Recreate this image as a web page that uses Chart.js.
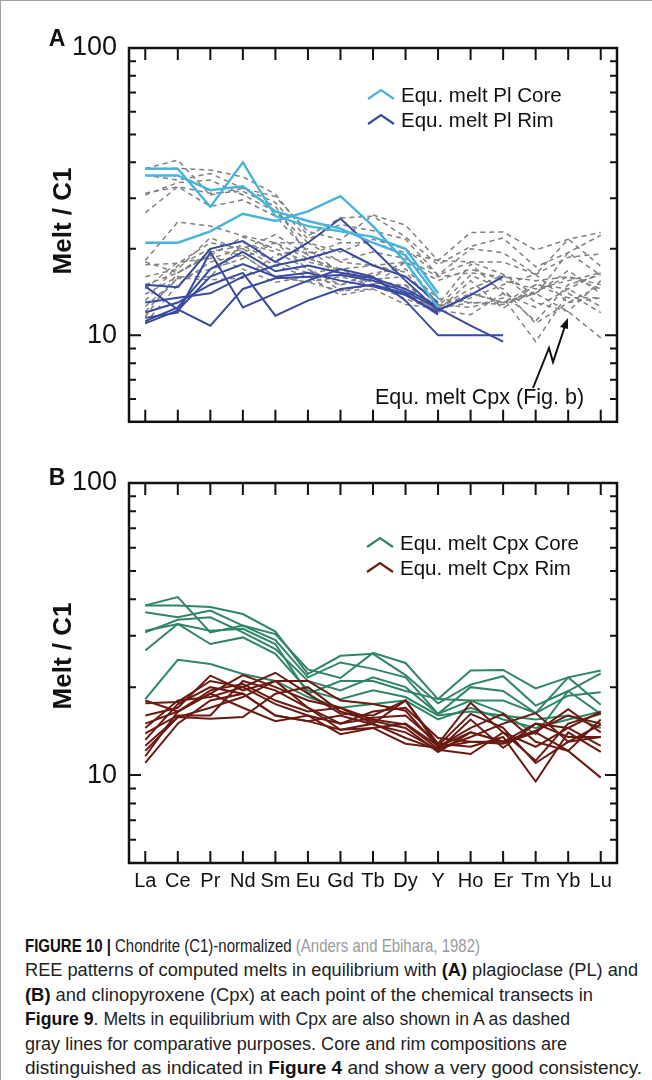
<!DOCTYPE html>
<html>
<head>
<meta charset="utf-8">
<script src="https://cdn.jsdelivr.net/npm/chart.js@4.4.1/dist/chart.umd.min.js"></script>
<style>
  body { margin: 0; background: #fff; font-family: "Liberation Sans", Arial, Helvetica, sans-serif; }
  #page { position: relative; width: 652px; height: 1080px; overflow: hidden; background: #fff; }
  #frame { position: absolute; left: 0; top: 0; width: 652px; height: 1080px; border-left: 1px solid #a0a0a0; border-top: 1px solid #a0a0a0; box-sizing: border-box; }
  .wrap { position: absolute; left: 0; }
  .lbl { position: absolute; white-space: nowrap; color: #111; }
  .ytitle { position: absolute; white-space: nowrap; font-weight: bold; font-size: 26px; color: #111; transform: translate(-50%, -50%) rotate(-90deg); }
  .panel { position: absolute; font-weight: bold; font-size: 23px; color: #111; transform: translate(-50%, -50%); }
  .leg { position: absolute; font-size: 20.5px; color: #111; white-space: nowrap; line-height: 25px; }
  .leg svg { vertical-align: middle; margin-right: 6px; position: relative; top: -3px; }
  .cap { position: absolute; left: 25px; white-space: nowrap; font-size: 17.5px; color: #222; transform-origin: 0 50%; line-height: 20px; }
  .cap b { color: #111; }
  .cap .ref { color: #9a9a9a; }
</style>
</head>
<body>
<div id="page">
  <div id="frame"></div>

  <div class="wrap" style="top:0;"><canvas id="chartA" width="652" height="450"></canvas></div>
  <div class="wrap" style="top:440px;"><canvas id="chartB" width="652" height="470"></canvas></div>

  <div class="panel" style="left:57px; top:38px;">A</div>
  <div class="panel" style="left:57px; top:477px;">B</div>
  <div class="ytitle" style="left:62px; top:221px;">Melt / C1</div>
  <div class="ytitle" style="left:62px; top:656px;">Melt / C1</div>

  <div class="leg" style="left:367px; top:82px;">
    <div><svg width="28" height="12"><polyline points="1,11 14,2 27,11" fill="none" stroke="#48b4dc" stroke-width="2.2"/></svg>Equ. melt Pl Core</div>
    <div><svg width="28" height="12"><polyline points="1,11 14,2 27,11" fill="none" stroke="#3a4aa0" stroke-width="2.2"/></svg>Equ. melt Pl Rim</div>
  </div>
  <div class="leg" style="left:366px; top:530px;">
    <div><svg width="28" height="12"><polyline points="1,11 14,2 27,11" fill="none" stroke="#2f8566" stroke-width="2.2"/></svg>Equ. melt Cpx Core</div>
    <div><svg width="28" height="12"><polyline points="1,11 14,2 27,11" fill="none" stroke="#6b1a12" stroke-width="2.2"/></svg>Equ. melt Cpx Rim</div>
  </div>

  <div class="lbl" style="left:375px; top:385px; font-size:21.5px;">Equ. melt Cpx (Fig. b)</div>
  <svg style="position:absolute; left:0; top:0;" width="652" height="450">
    <polyline points="533,388 549,348 553,362 565,326" fill="none" stroke="#111" stroke-width="2"/>
    <polygon points="568,318 560,327 568,329" fill="#111"/>
  </svg>

  <div class="cap" data-w="455" style="top:936px;"><b>FIGURE 10 |</b> Chondrite (C1)-normalized <span class="ref">(Anders and Ebihara, 1982)</span></div>
  <div class="cap" data-w="613" style="top:960px;">REE patterns of computed melts in equilibrium with <b>(A)</b> plagioclase (PL) and</div>
  <div class="cap" data-w="568" style="top:985px;"><b>(B)</b> and clinopyroxene (Cpx) at each point of the chemical transects in</div>
  <div class="cap" data-w="545" style="top:1009px;"><b>Figure 9</b>. Melts in equilibrium with Cpx are also shown in A as dashed</div>
  <div class="cap" data-w="542" style="top:1034px;">gray lines for comparative purposes. Core and rim compositions are</div>
  <div class="cap" data-w="617" style="top:1058px;">distinguished as indicated in <b>Figure 4</b> and show a very good consistency.</div>
</div>

<script>
// REE order on the x axis
const elements = ['La', 'Ce', 'Pr', 'Nd', 'Sm', 'Eu', 'Gd', 'Tb', 'Dy', 'Y', 'Ho', 'Er', 'Tm', 'Yb', 'Lu'];
const yTicks = [5, 6, 7, 8, 9, 10, 20, 30, 40, 50, 60, 70, 80, 90, 100];

// panel A - melts in equilibrium with plagioclase
const plCore1 = [38, 38, 28, 40, 26, 24, 23, 22, 20, 14];
const plCore2 = [36, 36, 32, 33, 27, 25, 23.5, 21, 19, 13.5];
const plCore3 = [21, 21, 23, 26.5, 25, 27, 30.5, 24, 18, 12.5];

const plRim1 = [15, 14.7, 20, 21.3, 18, 21, 25.5, 20, 15.5, 12.2, 13.8, 16];
const plRim2 = [14.8, 12.3, 10.8, 14.5, 15.8, 16, 16.2, 15.5, 14.2, 12.4, 10.8, 9.5];
const plRim3 = [11.5, 12, 19.5, 12.5, 14, 15.5, 17, 16, 13.2, 10, 10, 10];
const plRim4 = [11.2, 12.5, 17, 19.5, 16.7, 17.5, 16.5, 15.8, 14.5, 12.6];
const plRim5 = [11, 12.2, 16, 17.7, 16, 16.5, 15.5, 14.8, 13.8, 12];
const plRim6 = [12, 13, 15, 16.5, 11.7, 13.2, 14.5, 15, 14, 11.8];
const plRim7 = [13, 13.5, 14, 16, 17.5, 18.5, 20, 17.5, 16, 13];

// panel B - melts in equilibrium with clinopyroxene (also dashed gray in A)
const cpxCore1 = [38.1, 40.7, 30.8, 32.5, 30.4, 23, 21.5, 26.2, 24.2, 18.2, 22.8, 22.9, 19.8, 21.6, 22.8];
const cpxCore2 = [38.1, 38.1, 37.6, 35.6, 31, 22.2, 25.6, 26, 22, 17.6, 20.4, 21.8, 17.3, 19.4, 22.3];
const cpxCore3 = [36.1, 34.7, 36.6, 32.5, 29, 21.6, 24.3, 23.1, 21.6, 16.2, 20, 19.4, 16.3, 18.7, 19.2];
const cpxCore4 = [31.2, 32.9, 31.2, 31.7, 28.1, 19, 21, 21, 19.4, 18.2, 18, 18, 16.3, 21.6, 17.4];
const cpxCore5 = [30.8, 34, 34.7, 30.8, 27, 21, 19.5, 21.6, 20, 16.2, 18, 16.3, 13.8, 19.4, 16.2];
const cpxCore6 = [26.7, 32.9, 28.1, 29.6, 26, 19.5, 18.2, 19.5, 18.5, 16, 16.5, 16, 15.5, 16, 14.5];
const cpxCore7 = [18.2, 24.8, 24, 22.2, 21, 18.5, 17, 17.5, 18, 15.5, 17, 15.5, 14.5, 15.5, 16.5];

const cpxRim1 = [17.6, 17.8, 21, 20, 22.4, 19, 16.2, 16, 18, 12.8, 17.7, 14, 11.2, 15, 16.2];
const cpxRim2 = [16, 17, 21.9, 19.5, 21, 21, 18, 17.5, 16.6, 12.5, 14.5, 16.2, 13, 12.1, 15.5];
const cpxRim3 = [15, 16.5, 19, 22, 20, 18, 17, 15.5, 14.9, 12.3, 13.5, 15, 16.3, 13, 14.9];
const cpxRim4 = [14.5, 18, 18.5, 20, 17.5, 16, 15, 16.5, 17, 13.4, 13, 12.8, 14, 16.8, 14];
const cpxRim5 = [13.9, 16, 16, 21, 19.5, 17, 14.3, 15, 13.4, 12.2, 11.8, 14, 12.5, 14.5, 12.6];
const cpxRim6 = [13.2, 17.5, 20, 19, 16, 15.3, 16, 14.9, 14, 12.2, 15.5, 12.4, 15, 13.5, 13.5];
const cpxRim7 = [12.6, 15.8, 17, 18.5, 21, 17, 15, 15.7, 16, 12.8, 12.5, 13.5, 9.5, 14, 12];
const cpxRim8 = [12.1, 15.8, 15.6, 15.8, 19, 20, 16.5, 15.3, 14.5, 12, 14, 13, 14.2, 16, 15];
const cpxRim9 = [11.6, 16.5, 19, 17, 15.3, 16, 13.8, 14.5, 15, 12.6, 16.2, 14.5, 11, 13, 13.5];
const cpxRim10 = [11, 15, 18, 19, 16, 15.3, 14.3, 14.5, 12.8, 12.4, 13, 13, 14, 12.1, 9.8];
const cpxRim11 = [18, 16.5, 19.5, 20.5, 18, 16.5, 17, 15, 18, 12.5, 14, 13, 15, 14.5, 16.5];

const plCores = [plCore1, plCore2, plCore3];
const plRims = [plRim1, plRim2, plRim3, plRim4, plRim5, plRim6, plRim7];
const cpxCores = [cpxCore1, cpxCore2, cpxCore3, cpxCore4, cpxCore5, cpxCore6, cpxCore7];
const cpxRims = [cpxRim1, cpxRim2, cpxRim3, cpxRim4, cpxRim5, cpxRim6, cpxRim7, cpxRim8, cpxRim9, cpxRim10, cpxRim11];

const FONT = '"Liberation Sans", Arial, Helvetica, sans-serif';

function lineSet(data, color, width, dash){
    return {
        data: data,
        borderColor: color,
        borderWidth: width,
        borderDash: dash || [],
        pointRadius: 0,
        pointHoverRadius: 0,
        fill: false,
        tension: 0
    };
}

// box round the plot and ticks pointing inwards on all four sides
const frameTicks = {
    id: 'frameTicks',
    afterDraw(chart){
        const ctx = chart.ctx;
        const a = chart.chartArea;
        const x = chart.scales.x;
        const y = chart.scales.y;
        ctx.save();
        ctx.strokeStyle = '#111';
        ctx.lineWidth = 2;
        ctx.beginPath();
        x.ticks.forEach(function(t, i){
            const px = x.getPixelForTick(i);
            ctx.moveTo(px, a.top); ctx.lineTo(px, a.top + 12);
            ctx.moveTo(px, a.bottom); ctx.lineTo(px, a.bottom - 12);
        });
        y.ticks.forEach(function(t){
            if(t.value <= yTicks[0] || t.value >= yTicks[yTicks.length - 1]) return;
            const py = y.getPixelForValue(t.value);
            const major = Math.abs(Math.log10(t.value) % 1) < 1e-9;
            const len = major ? 12 : 7;
            ctx.moveTo(a.left, py); ctx.lineTo(a.left + len, py);
            ctx.moveTo(a.right, py); ctx.lineTo(a.right - len, py);
        });
        ctx.stroke();
        ctx.lineWidth = 2.5;
        ctx.strokeRect(a.left, a.top, a.right - a.left, a.bottom - a.top);
        ctx.restore();
    }
};

function makeOptions(showX, padding){
    return {
        responsive: false,
        animation: false,
        events: [],
        layout: { padding: padding },
        plugins: { legend: { display: false }, tooltip: { enabled: false } },
        scales: {
            x: {
                type: 'category',
                offset: true,
                grid: { display: false, drawTicks: false },
                border: { display: false },
                ticks: {
                    display: showX,
                    autoSkip: false,
                    maxRotation: 0,
                    minRotation: 0,
                    padding: 6,
                    color: '#111',
                    font: { family: FONT, size: 20 }
                },
                afterFit: function(s){ s.height = showX ? 40 : 0; }
            },
            y: {
                type: 'logarithmic',
                min: 5,
                max: 100,
                grid: { display: false, drawTicks: false },
                border: { display: false },
                afterBuildTicks: function(s){ s.ticks = yTicks.map(v => ({ value: v })); },
                ticks: {
                    autoSkip: false,
                    padding: 12,
                    color: '#111',
                    font: { family: FONT, size: 27 },
                    callback: function(v){ return (v === 10 || v === 100) ? String(v) : ''; }
                },
                afterFit: function(s){ s.width = 129; }
            }
        }
    };
}

function initPanelA(){
    const datasets = [];
    plCores.forEach(d => datasets.push(lineSet(d, '#48b4dc', 2.4)));
    plRims.forEach(d => datasets.push(lineSet(d, '#3a4aa0', 2)));
    cpxCores.concat(cpxRims).forEach(d => datasets.push(lineSet(d, '#808080', 1.5, [5, 4])));
    new Chart(document.getElementById('chartA').getContext('2d'), {
        type: 'line',
        data: { labels: elements, datasets: datasets },
        options: makeOptions(false, { left: 0, top: 48, right: 35, bottom: 24 }),
        plugins: [frameTicks]
    });
}

function initPanelB(){
    const datasets = [];
    cpxRims.forEach(d => datasets.push(lineSet(d, '#6b1a12', 2)));
    cpxCores.forEach(d => datasets.push(lineSet(d, '#2f8566', 2)));
    new Chart(document.getElementById('chartB').getContext('2d'), {
        type: 'line',
        data: { labels: elements, datasets: datasets },
        options: makeOptions(true, { left: 0, top: 43, right: 35, bottom: 7 }),
        plugins: [frameTicks]
    });
}

// squeeze each caption line to the width it has in the figure
function fitCaption(){
    document.querySelectorAll('.cap').forEach(function(el){
        const target = parseFloat(el.getAttribute('data-w'));
        const w = el.getBoundingClientRect().width;
        if(w > 0) el.style.transform = 'scaleX(' + (target / w).toFixed(4) + ')';
    });
}

initPanelA();
initPanelB();
fitCaption();
</script>
</body>
</html>
